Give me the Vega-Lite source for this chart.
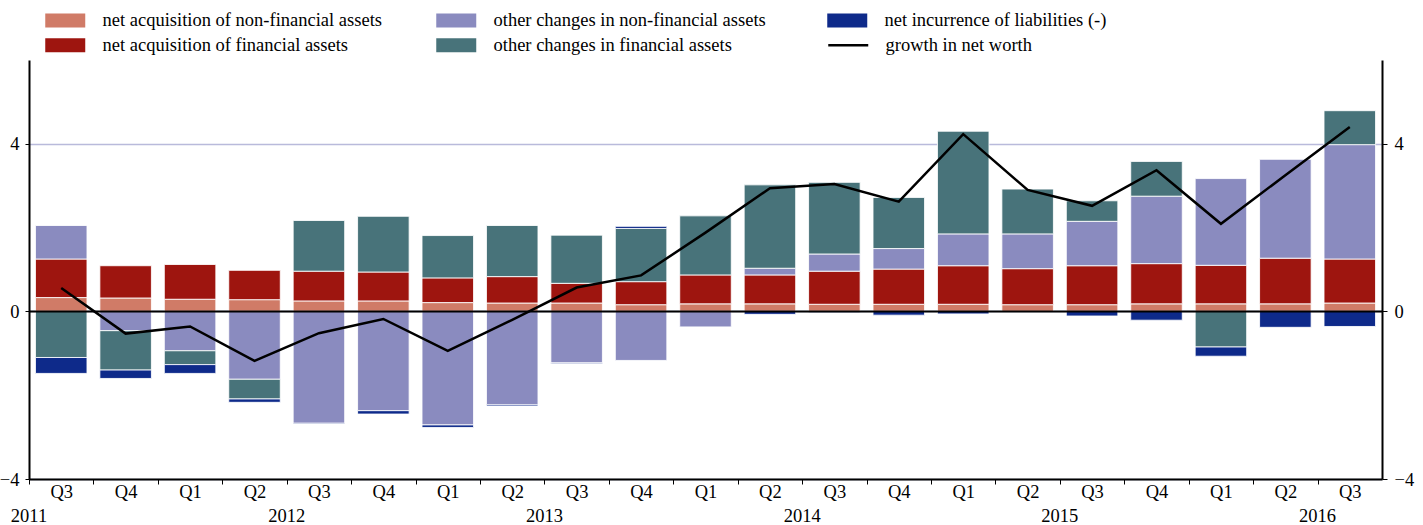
{
  "$schema": "https://vega.github.io/schema/vega-lite/v6.json",
  "width": 1353,
  "height": 419,
  "autosize": {"type": "none"},
  "padding": {"left": 29, "top": 60, "right": 41, "bottom": 46},
  "background": "white",
  "config": {
    "font": "Liberation Serif",
    "view": {"stroke": null},
    "axis": {"labelFont": "Liberation Serif", "labelFontSize": 18.5, "labelColor": "black", "tickColor": "black", "domainColor": "black", "domainWidth": 2}
  },
  "datasets": {
    "bars": [
      {"q": "2011-Q3", "s": "net acquisition of non-financial assets", "k": 1, "v": 0.33},
      {"q": "2011-Q3", "s": "net acquisition of financial assets", "k": 2, "v": 0.92},
      {"q": "2011-Q3", "s": "other changes in non-financial assets", "k": 3, "v": 0.80},
      {"q": "2011-Q3", "s": "other changes in financial assets", "k": 4, "v": -1.10},
      {"q": "2011-Q3", "s": "net incurrence of liabilities (-)", "k": 5, "v": -0.38},
      {"q": "2011-Q4", "s": "net acquisition of non-financial assets", "k": 1, "v": 0.32},
      {"q": "2011-Q4", "s": "net acquisition of financial assets", "k": 2, "v": 0.77},
      {"q": "2011-Q4", "s": "other changes in non-financial assets", "k": 3, "v": -0.46},
      {"q": "2011-Q4", "s": "other changes in financial assets", "k": 4, "v": -0.94},
      {"q": "2011-Q4", "s": "net incurrence of liabilities (-)", "k": 5, "v": -0.20},
      {"q": "2012-Q1", "s": "net acquisition of non-financial assets", "k": 1, "v": 0.29},
      {"q": "2012-Q1", "s": "net acquisition of financial assets", "k": 2, "v": 0.83},
      {"q": "2012-Q1", "s": "other changes in non-financial assets", "k": 3, "v": -0.94},
      {"q": "2012-Q1", "s": "other changes in financial assets", "k": 4, "v": -0.33},
      {"q": "2012-Q1", "s": "net incurrence of liabilities (-)", "k": 5, "v": -0.21},
      {"q": "2012-Q2", "s": "net acquisition of non-financial assets", "k": 1, "v": 0.28},
      {"q": "2012-Q2", "s": "net acquisition of financial assets", "k": 2, "v": 0.70},
      {"q": "2012-Q2", "s": "other changes in non-financial assets", "k": 3, "v": -1.62},
      {"q": "2012-Q2", "s": "other changes in financial assets", "k": 4, "v": -0.47},
      {"q": "2012-Q2", "s": "net incurrence of liabilities (-)", "k": 5, "v": -0.08},
      {"q": "2012-Q3", "s": "net acquisition of non-financial assets", "k": 1, "v": 0.25},
      {"q": "2012-Q3", "s": "net acquisition of financial assets", "k": 2, "v": 0.71},
      {"q": "2012-Q3", "s": "other changes in non-financial assets", "k": 3, "v": -2.67},
      {"q": "2012-Q3", "s": "other changes in financial assets", "k": 4, "v": 1.21},
      {"q": "2012-Q3", "s": "net incurrence of liabilities (-)", "k": 5, "v": -0.02},
      {"q": "2012-Q4", "s": "net acquisition of non-financial assets", "k": 1, "v": 0.25},
      {"q": "2012-Q4", "s": "net acquisition of financial assets", "k": 2, "v": 0.69},
      {"q": "2012-Q4", "s": "other changes in non-financial assets", "k": 3, "v": -2.37},
      {"q": "2012-Q4", "s": "other changes in financial assets", "k": 4, "v": 1.33},
      {"q": "2012-Q4", "s": "net incurrence of liabilities (-)", "k": 5, "v": -0.08},
      {"q": "2013-Q1", "s": "net acquisition of non-financial assets", "k": 1, "v": 0.21},
      {"q": "2013-Q1", "s": "net acquisition of financial assets", "k": 2, "v": 0.59},
      {"q": "2013-Q1", "s": "other changes in non-financial assets", "k": 3, "v": -2.71},
      {"q": "2013-Q1", "s": "other changes in financial assets", "k": 4, "v": 1.01},
      {"q": "2013-Q1", "s": "net incurrence of liabilities (-)", "k": 5, "v": -0.06},
      {"q": "2013-Q2", "s": "net acquisition of non-financial assets", "k": 1, "v": 0.20},
      {"q": "2013-Q2", "s": "net acquisition of financial assets", "k": 2, "v": 0.63},
      {"q": "2013-Q2", "s": "other changes in non-financial assets", "k": 3, "v": -2.23},
      {"q": "2013-Q2", "s": "other changes in financial assets", "k": 4, "v": 1.22},
      {"q": "2013-Q2", "s": "net incurrence of liabilities (-)", "k": 5, "v": -0.03},
      {"q": "2013-Q3", "s": "net acquisition of non-financial assets", "k": 1, "v": 0.20},
      {"q": "2013-Q3", "s": "net acquisition of financial assets", "k": 2, "v": 0.47},
      {"q": "2013-Q3", "s": "other changes in non-financial assets", "k": 3, "v": -1.23},
      {"q": "2013-Q3", "s": "other changes in financial assets", "k": 4, "v": 1.15},
      {"q": "2013-Q3", "s": "net incurrence of liabilities (-)", "k": 5, "v": -0.02},
      {"q": "2013-Q4", "s": "net acquisition of non-financial assets", "k": 1, "v": 0.16},
      {"q": "2013-Q4", "s": "net acquisition of financial assets", "k": 2, "v": 0.55},
      {"q": "2013-Q4", "s": "other changes in non-financial assets", "k": 3, "v": -1.17},
      {"q": "2013-Q4", "s": "other changes in financial assets", "k": 4, "v": 1.27},
      {"q": "2013-Q4", "s": "net incurrence of liabilities (-)", "k": 5, "v": 0.05},
      {"q": "2014-Q1", "s": "net acquisition of non-financial assets", "k": 1, "v": 0.18},
      {"q": "2014-Q1", "s": "net acquisition of financial assets", "k": 2, "v": 0.69},
      {"q": "2014-Q1", "s": "other changes in non-financial assets", "k": 3, "v": -0.37},
      {"q": "2014-Q1", "s": "other changes in financial assets", "k": 4, "v": 1.41},
      {"q": "2014-Q2", "s": "net acquisition of non-financial assets", "k": 1, "v": 0.18},
      {"q": "2014-Q2", "s": "net acquisition of financial assets", "k": 2, "v": 0.69},
      {"q": "2014-Q2", "s": "other changes in non-financial assets", "k": 3, "v": 0.16},
      {"q": "2014-Q2", "s": "other changes in financial assets", "k": 4, "v": 1.99},
      {"q": "2014-Q2", "s": "net incurrence of liabilities (-)", "k": 5, "v": -0.07},
      {"q": "2014-Q3", "s": "net acquisition of non-financial assets", "k": 1, "v": 0.17},
      {"q": "2014-Q3", "s": "net acquisition of financial assets", "k": 2, "v": 0.79},
      {"q": "2014-Q3", "s": "other changes in non-financial assets", "k": 3, "v": 0.41},
      {"q": "2014-Q3", "s": "other changes in financial assets", "k": 4, "v": 1.71},
      {"q": "2014-Q3", "s": "net incurrence of liabilities (-)", "k": 5, "v": -0.03},
      {"q": "2014-Q4", "s": "net acquisition of non-financial assets", "k": 1, "v": 0.17},
      {"q": "2014-Q4", "s": "net acquisition of financial assets", "k": 2, "v": 0.84},
      {"q": "2014-Q4", "s": "other changes in non-financial assets", "k": 3, "v": 0.49},
      {"q": "2014-Q4", "s": "other changes in financial assets", "k": 4, "v": 1.22},
      {"q": "2014-Q4", "s": "net incurrence of liabilities (-)", "k": 5, "v": -0.09},
      {"q": "2015-Q1", "s": "net acquisition of non-financial assets", "k": 1, "v": 0.17},
      {"q": "2015-Q1", "s": "net acquisition of financial assets", "k": 2, "v": 0.92},
      {"q": "2015-Q1", "s": "other changes in non-financial assets", "k": 3, "v": 0.76},
      {"q": "2015-Q1", "s": "other changes in financial assets", "k": 4, "v": 2.45},
      {"q": "2015-Q1", "s": "net incurrence of liabilities (-)", "k": 5, "v": -0.06},
      {"q": "2015-Q2", "s": "net acquisition of non-financial assets", "k": 1, "v": 0.16},
      {"q": "2015-Q2", "s": "net acquisition of financial assets", "k": 2, "v": 0.86},
      {"q": "2015-Q2", "s": "other changes in non-financial assets", "k": 3, "v": 0.83},
      {"q": "2015-Q2", "s": "other changes in financial assets", "k": 4, "v": 1.07},
      {"q": "2015-Q3", "s": "net acquisition of non-financial assets", "k": 1, "v": 0.16},
      {"q": "2015-Q3", "s": "net acquisition of financial assets", "k": 2, "v": 0.93},
      {"q": "2015-Q3", "s": "other changes in non-financial assets", "k": 3, "v": 1.06},
      {"q": "2015-Q3", "s": "other changes in financial assets", "k": 4, "v": 0.49},
      {"q": "2015-Q3", "s": "net incurrence of liabilities (-)", "k": 5, "v": -0.11},
      {"q": "2015-Q4", "s": "net acquisition of non-financial assets", "k": 1, "v": 0.18},
      {"q": "2015-Q4", "s": "net acquisition of financial assets", "k": 2, "v": 0.96},
      {"q": "2015-Q4", "s": "other changes in non-financial assets", "k": 3, "v": 1.61},
      {"q": "2015-Q4", "s": "other changes in financial assets", "k": 4, "v": 0.83},
      {"q": "2015-Q4", "s": "net incurrence of liabilities (-)", "k": 5, "v": -0.21},
      {"q": "2016-Q1", "s": "net acquisition of non-financial assets", "k": 1, "v": 0.18},
      {"q": "2016-Q1", "s": "net acquisition of financial assets", "k": 2, "v": 0.92},
      {"q": "2016-Q1", "s": "other changes in non-financial assets", "k": 3, "v": 2.07},
      {"q": "2016-Q1", "s": "other changes in financial assets", "k": 4, "v": -0.85},
      {"q": "2016-Q1", "s": "net incurrence of liabilities (-)", "k": 5, "v": -0.22},
      {"q": "2016-Q2", "s": "net acquisition of non-financial assets", "k": 1, "v": 0.18},
      {"q": "2016-Q2", "s": "net acquisition of financial assets", "k": 2, "v": 1.09},
      {"q": "2016-Q2", "s": "other changes in non-financial assets", "k": 3, "v": 2.36},
      {"q": "2016-Q2", "s": "net incurrence of liabilities (-)", "k": 5, "v": -0.38},
      {"q": "2016-Q3", "s": "net acquisition of non-financial assets", "k": 1, "v": 0.20},
      {"q": "2016-Q3", "s": "net acquisition of financial assets", "k": 2, "v": 1.05},
      {"q": "2016-Q3", "s": "other changes in non-financial assets", "k": 3, "v": 2.73},
      {"q": "2016-Q3", "s": "other changes in financial assets", "k": 4, "v": 0.81},
      {"q": "2016-Q3", "s": "net incurrence of liabilities (-)", "k": 5, "v": -0.36}
    ],
    "nw": [
      {"q": "2011-Q3", "v": 0.56}, {"q": "2011-Q4", "v": -0.53}, {"q": "2012-Q1", "v": -0.36},
      {"q": "2012-Q2", "v": -1.18}, {"q": "2012-Q3", "v": -0.52}, {"q": "2012-Q4", "v": -0.18},
      {"q": "2013-Q1", "v": -0.94}, {"q": "2013-Q2", "v": -0.20}, {"q": "2013-Q3", "v": 0.57},
      {"q": "2013-Q4", "v": 0.86}, {"q": "2014-Q1", "v": 1.88}, {"q": "2014-Q2", "v": 2.94},
      {"q": "2014-Q3", "v": 3.04}, {"q": "2014-Q4", "v": 2.62}, {"q": "2015-Q1", "v": 4.23},
      {"q": "2015-Q2", "v": 2.90}, {"q": "2015-Q3", "v": 2.52}, {"q": "2015-Q4", "v": 3.37},
      {"q": "2016-Q1", "v": 2.09}, {"q": "2016-Q2", "v": 3.25}, {"q": "2016-Q3", "v": 4.40}
    ],
    "zero": [{"v": 0}]
  },
  "layer": [
    {
      "data": {"name": "bars"},
      "mark": {"type": "bar", "stroke": "white", "strokeWidth": 1, "strokeOpacity": 0.85},
      "encoding": {
        "x": {
          "field": "q", "type": "ordinal",
          "scale": {"paddingInner": 0.2, "paddingOuter": 0.1},
          "axis": {"title": null, "orient": "bottom", "labelExpr": "slice(datum.value, 5)", "tickOffset": -32.2, "labelOffset": 32.2, "tickSize": 5, "labelPadding": -2, "labelAngle": 0, "grid": false}
        },
        "y": {
          "field": "v", "type": "quantitative", "stack": "zero",
          "scale": {"domain": [-4, 6], "nice": false},
          "axis": {"title": null, "orient": "left", "values": [-4, 0, 4], "tickSize": 4, "labelPadding": 6, "grid": true, "gridColor": "#B9BADB", "gridWidth": 1.5}
        },
        "fill": {
          "field": "s", "type": "nominal",
          "scale": {
            "domain": ["net acquisition of non-financial assets", "other changes in non-financial assets", "net incurrence of liabilities (-)", "net acquisition of financial assets", "other changes in financial assets"],
            "range": ["#D07B67", "#8A8BBF", "#0E2A8A", "#9E150F", "#48737A"]
          },
          "legend": {
            "title": null, "orient": "none", "legendX": 27, "legendY": -49,
            "columns": 3, "direction": "horizontal", "gridAlign": "all",
            "columnPadding": 54, "rowPadding": 6, "labelFontSize": 18.5, "labelFont": "Liberation Serif", "labelColor": "black",
            "labelLimit": 0, "labelOffset": 28, "symbolSize": 196, "symbolStrokeWidth": 0,
            "symbolType": "M-2.857,-1H2.857V1H-2.857Z"
          }
        },
        "order": {"field": "k", "type": "quantitative"}
      }
    },
    {
      "data": {"name": "zero"},
      "mark": {"type": "rule", "color": "black", "strokeWidth": 2},
      "encoding": {"y": {"field": "v", "type": "quantitative", "axis": null}}
    },
    {
      "data": {"name": "nw"},
      "mark": {"type": "line", "strokeWidth": 2.5},
      "encoding": {
        "x": {
          "field": "q", "type": "ordinal",
          "axis": {"title": null, "orient": "bottom", "values": ["2011-Q3", "2012-Q3", "2013-Q3", "2014-Q3", "2015-Q3", "2016-Q3"], "labelExpr": "slice(datum.value, 0, 4)", "labelOffset": -32.2, "ticks": false, "domain": false, "offset": 27, "labelPadding": 0, "labelAngle": 0, "grid": false}
        },
        "y": {"field": "v", "type": "quantitative", "axis": {"title": null, "orient": "right", "values": [-4, 0, 4], "tickSize": 5, "labelPadding": 7, "grid": false}},
        "stroke": {
          "datum": "growth in net worth",
          "scale": {"range": ["#000000"]},
          "legend": {
            "title": null, "orient": "none", "legendX": 810, "legendY": -24,
            "labelFontSize": 18.5, "labelFont": "Liberation Serif", "labelColor": "black",
            "labelLimit": 0, "labelOffset": 28, "symbolSize": 196, "symbolStrokeWidth": 2.5,
            "symbolType": "M-2.857,0H2.857"
          }
        }
      }
    }
  ],
  "resolve": {"axis": {"x": "independent", "y": "independent"}}
}
